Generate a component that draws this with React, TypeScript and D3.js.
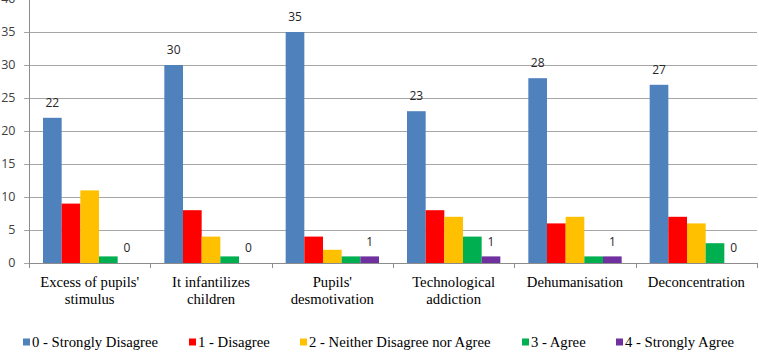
import React, { useRef, useEffect } from 'react';
import * as d3 from 'd3';

// Survey answers per statement, one array per answer level
const categories = [
  "Excess of pupils'\nstimulus",
  'It infantilizes\nchildren',
  "Pupils'\ndesmotivation",
  'Technological\naddiction',
  'Dehumanisation',
  'Deconcentration',
];
const seriesNames = [
  '0 - Strongly Disagree',
  '1 - Disagree',
  '2 - Neither Disagree nor Agree',
  '3 - Agree',
  '4 - Strongly Agree',
];
const stronglyDisagree = [22, 30, 35, 23, 28, 27];
const disagree = [9, 8, 4, 8, 6, 7];
const neither = [11, 4, 2, 7, 7, 6];
const agree = [1, 1, 1, 4, 1, 3];
const stronglyAgree = [0, 0, 1, 1, 1, 0];
const yTicks = [0, 5, 10, 15, 20, 25, 30, 35, 40];

const colors = ['#4f81bd', '#ff0000', '#ffc000', '#00b050', '#7030a0'];
// only these series carry value labels
const labelledSeries = [0, 4];

const W = 759;
const H = 355;
const SERIF = 'Liberation Serif';
const SANS = 'Open Sans';

const App = () => {
  const svgRef = useRef<SVGSVGElement>(null);

  useEffect(() => {
    const svg = d3.select(svgRef.current);
    svg.selectAll('*').remove();

    const values = [stronglyDisagree, disagree, neither, agree, stronglyAgree];
    const left = 29;
    const right = 757;
    const top = -1;
    const bottom = 263;

    const x = d3.scaleBand<number>()
      .domain(d3.range(categories.length))
      .range([left, right])
      .paddingInner(0)
      .paddingOuter(0);

    const groupW = x.bandwidth() * (5 / 6.5);
    const x1 = d3.scaleBand<number>()
      .domain(d3.range(seriesNames.length))
      .range([0, groupW]);

    const y = d3.scaleLinear().domain([0, 40]).range([bottom, top]);

    // gridlines, with short ticks left of the axis
    svg.append('g')
      .selectAll('line')
      .data(yTicks)
      .join('line')
      .attr('x1', left - 5)
      .attr('x2', right)
      .attr('y1', d => Math.round(y(d)) + 0.5)
      .attr('y2', d => Math.round(y(d)) + 0.5)
      .attr('stroke', '#a6a6a6')
      .attr('stroke-width', 1);

    // y tick labels
    svg.append('g')
      .selectAll('text')
      .data(yTicks)
      .join('text')
      .attr('x', 15.5)
      .attr('y', d => y(d))
      .attr('dy', '0.35em')
      .attr('text-anchor', 'end')
      .attr('font-family', SANS)
      .attr('font-size', 12.5)
      .attr('fill', '#404040')
      .text(d => d);

    // bars
    const offset = (x.bandwidth() - groupW) / 2;
    values.forEach((arr, s) => {
      svg.append('g')
        .attr('fill', colors[s])
        .selectAll('rect')
        .data(arr)
        .join('rect')
        .attr('x', (_, i) => (x(i) as number) + offset + (x1(s) as number))
        .attr('y', d => y(d))
        .attr('width', x1.bandwidth())
        .attr('height', d => bottom - y(d));
    });

    // value labels
    labelledSeries.forEach(s => {
      svg.append('g')
        .selectAll('text')
        .data(values[s])
        .join('text')
        .attr('x', (_, i) => (x(i) as number) + offset + (x1(s) as number) + x1.bandwidth() / 2)
        .attr('y', d => y(d) - 15)
        .attr('dy', '0.35em')
        .attr('text-anchor', 'middle')
        .attr('font-family', SANS)
        .attr('font-size', 12)
        .attr('fill', '#262626')
        .text(d => d);
    });

    // axes lines
    svg.append('line')
      .attr('x1', left + 0.5).attr('x2', left + 0.5)
      .attr('y1', top).attr('y2', bottom + 4)
      .attr('stroke', '#8c8c8c');
    svg.append('line')
      .attr('x1', left).attr('x2', right)
      .attr('y1', bottom + 0.5).attr('y2', bottom + 0.5)
      .attr('stroke', '#8c8c8c');

    // category boundary ticks
    const bounds = d3.range(categories.length + 1).map(i => left + i * x.bandwidth());
    svg.append('g')
      .selectAll('line')
      .data(bounds)
      .join('line')
      .attr('x1', d => Math.round(d) + 0.5)
      .attr('x2', d => Math.round(d) + 0.5)
      .attr('y1', bottom)
      .attr('y2', bottom + 5)
      .attr('stroke', '#8c8c8c');

    // category labels
    const cat = svg.append('g')
      .selectAll('text')
      .data(categories)
      .join('text')
      .attr('x', (_, i) => (x(i) as number) + x.bandwidth() / 2)
      .attr('y', 282)
      .attr('text-anchor', 'middle')
      .attr('font-family', SERIF)
      .attr('font-size', 14.7)
      .attr('fill', '#000');
    cat.each(function (d) {
      const t = d3.select(this);
      d.split('\n').forEach((line, k) => {
        t.append('tspan')
          .attr('x', t.attr('x'))
          .attr('dy', k === 0 ? '0.35em' : '16.5px')
          .text(line);
      });
    });

    // legend
    const legendX = [23, 189, 300, 522, 616];
    const legend = svg.append('g')
      .selectAll('g')
      .data(seriesNames)
      .join('g')
      .attr('transform', (_, i) => `translate(${legendX[i]},342)`);
    legend.append('rect')
      .attr('x', 0)
      .attr('y', -3.5)
      .attr('width', 7)
      .attr('height', 7)
      .attr('fill', (_, i) => colors[i]);
    legend.append('text')
      .attr('x', 9)
      .attr('dy', '0.35em')
      .attr('font-family', SERIF)
      .attr('font-size', 14.7)
      .attr('fill', '#000')
      .text(d => d);
  }, []);

  return (
    <svg
      ref={svgRef}
      width={W}
      height={H}
      style={{ position: 'absolute', left: 0, top: 0, background: '#fff', display: 'block' }}
    />
  );
};

export default App;
